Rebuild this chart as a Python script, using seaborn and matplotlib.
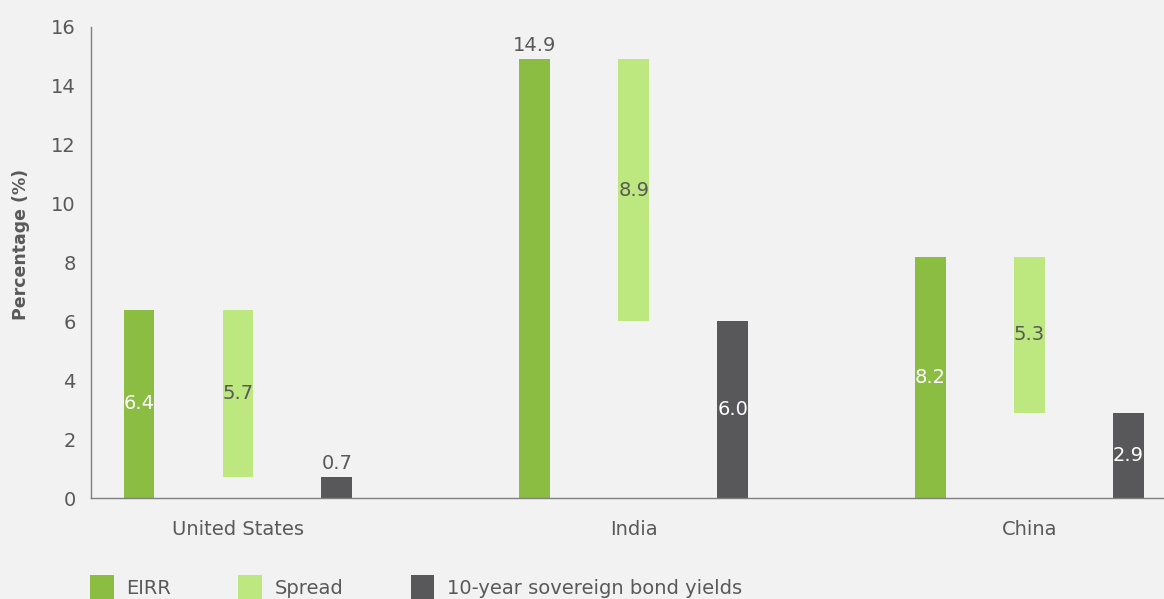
import matplotlib
matplotlib.use("Agg")
import matplotlib.pyplot as plt
from matplotlib.patches import Patch
import pandas as pd
import seaborn as sns

# ---- data -------------------------------------------------------------
countries = ["United States", "India", "China"]
eirr = [6.4, 14.9, 8.2]
spread = [5.7, 8.9, 5.3]
bond_yield = [0.7, 6.0, 2.9]
series_names = ["EIRR", "Spread", "10-year sovereign bond yields"]
y_ticks = [0, 2, 4, 6, 8, 10, 12, 14, 16]
y_label = "Percentage (%)"

# ---- style ------------------------------------------------------------
BG = "#f2f2f2"
TEXT = "#595959"
AXIS = "#808080"
palette = ["#8abd41", "#bde77f", "#58585a"]
FS = 14

sns.set_theme(style="white", rc={
    "figure.facecolor": BG,
    "axes.facecolor": BG,
    "savefig.facecolor": BG,
})
plt.rcParams["font.family"] = ["DejaVu Sans"]

df = pd.DataFrame({
    "country": countries * 3,
    "series": [s for s in series_names for _ in countries],
    "value": eirr + spread + bond_yield,
})

fig = plt.figure(figsize=(11.64, 5.99), dpi=100)
ax = fig.add_axes([91 / 1164, 101 / 599, 1 - 91 / 1164, 471 / 599])

sns.barplot(
    data=df, x="country", y="value", hue="series",
    order=countries, hue_order=series_names, palette=palette,
    width=0.75, gap=0.69, saturation=1, errorbar=None,
    linewidth=0, edgecolor="none",
    legend=False, ax=ax,
)

# the spread bridges the bond yield up to the EIRR
for bar, base in zip(ax.containers[1], bond_yield):
    bar.set_y(base)

# value labels: inside the bar (centred) or just above it
placement = [
    [("center", "white"), ("top", TEXT), ("center", "white")],
    [("center", TEXT), ("center", TEXT), ("center", TEXT)],
    [("top", TEXT), ("center", "white"), ("center", "white")],
]
for container, vals, places in zip(ax.containers, [eirr, spread, bond_yield], placement):
    for bar, v, (where, col) in zip(container, vals, places):
        cx = bar.get_x() + bar.get_width() / 2
        if where == "center":
            ax.annotate(f"{v:.1f}", (cx, bar.get_y() + bar.get_height() / 2),
                        ha="center", va="center", color=col, fontsize=FS)
        else:
            ax.annotate(f"{v:.1f}", (cx, bar.get_y() + bar.get_height()),
                        xytext=(0, 14), textcoords="offset pixels",
                        ha="center", va="center", color=col, fontsize=FS)

ax.set_xlim(-0.371, 2.34)
ax.set_ylim(0, 16)
ax.set_yticks(y_ticks)
ax.set_xlabel("")
ax.set_ylabel(y_label, fontsize=12.5, fontweight="bold", color=TEXT)
ax.yaxis.set_label_coords(-0.057, 0.539)

sns.despine(ax=ax, top=True, right=True)
for side in ("left", "bottom"):
    ax.spines[side].set_color(AXIS)
    ax.spines[side].set_linewidth(1.0)
ax.tick_params(axis="both", length=0, labelsize=FS, labelcolor=TEXT)
ax.tick_params(axis="x", pad=15.5)
ax.tick_params(axis="y", pad=11)

handles = [Patch(facecolor=c, edgecolor="none", label=n) for c, n in zip(palette, series_names)]
fig.legend(
    handles=handles, loc="upper left",
    bbox_to_anchor=(90 / 1164, 1 - 575 / 599),
    ncol=3, frameon=False, borderpad=0, borderaxespad=0,
    handlelength=1.22, handleheight=1.6, handletextpad=0.65,
    columnspacing=3.45, fontsize=FS, labelcolor=TEXT,
)

fig.savefig("out.png", dpi=100, facecolor=BG)
